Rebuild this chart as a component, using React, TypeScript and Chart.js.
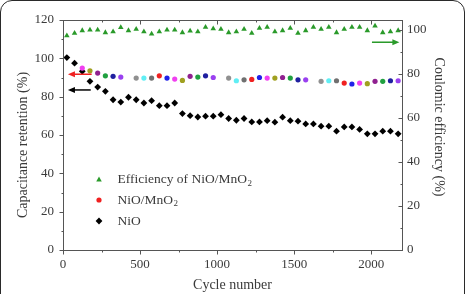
import React, { useEffect, useRef } from 'react';
import { Chart, registerables } from 'chart.js';

Chart.register(...registerables);

// ---- data ----
const cycles = [
  25, 75, 125, 175, 225, 275, 325, 375, 425, 475, 525, 575, 625, 675, 725, 775, 825, 875, 925, 975, 1025, 1075,
  1125, 1175, 1225, 1275, 1325, 1375, 1425, 1475, 1525, 1575, 1625, 1675, 1725, 1775, 1825, 1875, 1925, 1975, 2025,
  2075, 2125, 2175,
];

// Coulombic efficiency of NiO/MnO2 (right axis, %)
const efficiency = [
  97.4, 98.5, 99.7, 100.0, 100.0, 98.8, 99.2, 101.1, 99.7, 100.3, 99.2, 98.2, 99.2, 100.0, 100.0, 98.8, 99.5, 99.2,
  101.2, 100.6, 100.3, 98.8, 99.2, 100.3, 98.5, 100.8, 101.2, 99.2, 99.7, 100.8, 98.5, 99.7, 101.2, 100.3, 101.2,
  98.8, 100.3, 101.2, 101.2, 99.7, 101.8, 98.8, 99.2, 99.7,
];

// Capacitance retention of NiO/MnO2 (left axis, %)
const nioMno2 = [
  null, null, 94.9, 93.5, 92.3, 90.9, 90.6, 90.2, null, 89.7, 89.7, 89.7, 90.9, 89.7, 89.2, 88.5, 90.6, 90.2, 90.9,
  90.0, null, 89.7, 88.3, 88.8, 89.0, 90.0, 89.7, 89.7, 90.0, 89.7, 88.8, 88.8, null, 88.0, 88.3, 88.3, 87.1, 86.6,
  87.1, 86.8, 88.0, 88.0, 88.3, 88.3,
];

const nioMno2Colors = [
  '#ffffff', '#ffffff', '#f040f0', '#a0a020', '#902090', '#20a040', '#2020a0', '#9a40f0', '#ffffff', '#909090',
  '#60eef4', '#707070', '#f02020', '#2020e8', '#f040f0', '#a0a020', '#902090', '#20a040', '#2020a0', '#9a40f0',
  '#ffffff', '#909090', '#60eef4', '#707070', '#f02020', '#2020e8', '#f040f0', '#a0a020', '#902090', '#20a040',
  '#2020a0', '#9a40f0', '#ffffff', '#909090', '#60eef4', '#707070', '#f02020', '#2020e8', '#f040f0', '#a0a020',
  '#902090', '#20a040', '#2020a0', '#9a40f0',
];

// Capacitance retention of NiO (left axis, %)
const nio = [
  100.4, 97.5, 93.2, 88.0, 85.0, 82.8, 78.4, 77.2, 79.7, 78.4, 76.7, 77.9, 75.3, 75.3, 76.7, 71.2, 70.1, 69.4, 69.8,
  69.8, 70.6, 68.6, 67.7, 68.6, 66.8, 66.8, 67.5, 66.7, 69.3, 67.5, 67.2, 65.8, 65.8, 64.6, 64.6, 62.0, 64.2, 64.2,
  62.9, 60.6, 60.6, 62.0, 62.0, 60.6,
];

const leftTicks = [0, 20, 40, 60, 80, 100, 120];
const leftMinor = [10, 30, 50, 70, 90, 110];
const rightTicks = [0, 20, 40, 60, 80, 100];
const rightMinor = [10, 30, 50, 70, 90];
const xTicks = [0, 500, 1000, 1500, 2000];
const xMinor = [250, 750, 1250, 1750];

const legendNames = ['Efficiency of NiO/MnO', 'NiO/MnO', 'NiO'];
const legendSubs = ['2', '2', ''];

// arrows: [x from, x to, value] in data units
const redArrow = [186, 32, 91.7];
const blackArrow = [180, 32, 83.5];
const greenArrow = [2005, 2183, 94.4];

const FONT = '"Liberation Serif", "Times New Roman", serif';
const TEXT = '#3a3a3a';
const AXIS = '#555555';
const GREEN = '#2a9a2a';
const RED = '#f02020';

function drawTri(ctx: CanvasRenderingContext2D, x: number, y: number, r: number) {
  ctx.beginPath();
  ctx.moveTo(x, y - r);
  ctx.lineTo(x + r * Math.sin((2 * Math.PI) / 3), y + r / 2);
  ctx.lineTo(x - r * Math.sin((2 * Math.PI) / 3), y + r / 2);
  ctx.closePath();
  ctx.fill();
}

function drawArrow(ctx: CanvasRenderingContext2D, x1: number, x2: number, y: number, color: string) {
  const dir = Math.sign(x2 - x1);
  ctx.strokeStyle = color;
  ctx.fillStyle = color;
  ctx.lineWidth = 1.5;
  ctx.beginPath();
  ctx.moveTo(x1, y);
  ctx.lineTo(x2 - dir * 5, y);
  ctx.stroke();
  ctx.beginPath();
  ctx.moveTo(x2, y);
  ctx.lineTo(x2 - dir * 7, y - 3);
  ctx.lineTo(x2 - dir * 7, y + 3);
  ctx.closePath();
  ctx.fill();
}

const decorPlugin = {
  id: 'decor',
  afterDraw(chart: any) {
    const { ctx, chartArea: ca, scales } = chart;
    const sx = scales.x;
    const sy = scales.y;
    const sy2 = scales.y2;
    const L = Math.round(ca.left) + 0.5;
    const R = Math.round(ca.right) + 0.5;
    const T = Math.round(ca.top) + 0.5;
    const B = Math.round(ca.bottom) + 0.5;
    ctx.save();
    ctx.strokeStyle = AXIS;
    ctx.lineWidth = 1;
    ctx.strokeRect(L, T, R - L, B - T);
    const seg = (a: number, b: number, c: number, d: number) => {
      ctx.beginPath();
      ctx.moveTo(a, b);
      ctx.lineTo(c, d);
      ctx.stroke();
    };
    const py = (s: any, v: number) => Math.round(s.getPixelForValue(v)) + 0.5;
    leftTicks.forEach((v) => seg(L - 4, py(sy, v), L, py(sy, v)));
    leftMinor.forEach((v) => seg(L - 2, py(sy, v), L, py(sy, v)));
    rightTicks.forEach((v) => seg(R - 4, py(sy2, v), R, py(sy2, v)));
    rightMinor.forEach((v) => seg(R - 2, py(sy2, v), R, py(sy2, v)));
    xTicks.forEach((v) => {
      seg(py(sx, v), B, py(sx, v), B + 4);
      seg(py(sx, v), T, py(sx, v), T + 4);
    });
    xMinor.forEach((v) => {
      seg(py(sx, v), B, py(sx, v), B + 2);
      seg(py(sx, v), T, py(sx, v), T + 2);
    });

    // arrows
    drawArrow(ctx, sx.getPixelForValue(redArrow[0]), sx.getPixelForValue(redArrow[1]), sy.getPixelForValue(redArrow[2]), RED);
    drawArrow(ctx, sx.getPixelForValue(blackArrow[0]), sx.getPixelForValue(blackArrow[1]), sy.getPixelForValue(blackArrow[2]), '#000000');
    drawArrow(ctx, sx.getPixelForValue(greenArrow[0]), sx.getPixelForValue(greenArrow[1]), sy2.getPixelForValue(greenArrow[2]), GREEN);

    // axis titles
    ctx.fillStyle = TEXT;
    ctx.textAlign = 'center';
    ctx.textBaseline = 'middle';
    ctx.font = `14px ${FONT}`;
    ctx.fillText('Cycle number', (ca.left + ca.right) / 2, 285);
    ctx.save();
    ctx.translate(23.5, 145);
    ctx.rotate(-Math.PI / 2);
    ctx.fillText('Capacitance retention (%)', 0, 0);
    ctx.restore();
    ctx.save();
    ctx.translate(439, 127);
    ctx.rotate(Math.PI / 2);
    ctx.fillText('Coulomic efficiency (%)', 0, 0);
    ctx.restore();

    // legend
    const mx = ca.left + 36;
    const tx = ca.left + 54.5;
    const rows = [ca.top + 159.3, ca.top + 180, ca.top + 201];
    ctx.fillStyle = GREEN;
    drawTri(ctx, mx, rows[0] + 0.5, 3.2);
    ctx.fillStyle = RED;
    ctx.beginPath();
    ctx.arc(mx, rows[1], 2.6, 0, Math.PI * 2);
    ctx.fill();
    ctx.fillStyle = '#000';
    ctx.beginPath();
    ctx.moveTo(mx - 3.4, rows[2]);
    ctx.lineTo(mx, rows[2] - 3.4);
    ctx.lineTo(mx + 3.4, rows[2]);
    ctx.lineTo(mx, rows[2] + 3.4);
    ctx.closePath();
    ctx.fill();
    ctx.textAlign = 'left';
    ctx.textBaseline = 'middle';
    ctx.fillStyle = TEXT;
    legendNames.forEach((name, i) => {
      ctx.font = `13.5px ${FONT}`;
      ctx.fillText(name, tx, rows[i]);
      if (legendSubs[i]) {
        const w = ctx.measureText(name).width;
        ctx.font = `9px ${FONT}`;
        ctx.fillText(legendSubs[i], tx + w + 0.5, rows[i] + 4);
      }
    });
    ctx.restore();
  },
};

export default function App() {
  const ref = useRef<HTMLCanvasElement>(null);
  useEffect(() => {
    const tickFont = { family: FONT, size: 13 };
    const chart = new Chart(ref.current as HTMLCanvasElement, {
      type: 'scatter',
      data: {
        datasets: [
          {
            label: 'Efficiency of NiO/MnO2',
            data: cycles.map((c, i) => ({ x: c, y: efficiency[i] })),
            yAxisID: 'y2',
            pointStyle: 'triangle',
            pointRadius: 3.2,
            pointBorderWidth: 0,
            backgroundColor: GREEN,
            borderColor: GREEN,
          },
          {
            label: 'NiO/MnO2',
            data: cycles.map((c, i) => ({ x: c, y: nioMno2[i] })),
            yAxisID: 'y',
            pointStyle: 'circle',
            pointRadius: 2.6,
            pointBorderWidth: 0,
            pointBackgroundColor: nioMno2Colors,
            backgroundColor: RED,
            borderColor: RED,
          },
          {
            label: 'NiO',
            data: cycles.map((c, i) => ({ x: c, y: nio[i] })),
            yAxisID: 'y',
            pointStyle: 'rectRot',
            pointRadius: 3.4,
            pointBorderWidth: 0,
            backgroundColor: '#000000',
            borderColor: '#000000',
          },
        ],
      },
      options: {
        responsive: false,
        animation: false,
        devicePixelRatio: 1,
        layout: { padding: 0 },
        plugins: { legend: { display: false }, tooltip: { enabled: false } },
        scales: {
          x: {
            type: 'linear',
            position: 'bottom',
            min: 0,
            max: 2200,
            afterBuildTicks: (s: any) => {
              s.ticks = xTicks.map((v) => ({ value: v }));
            },
            afterFit: (s: any) => {
              s.height = 44;
            },
            grid: { display: false, drawTicks: false, tickLength: 0 },
            border: { display: false },
            ticks: { font: tickFont, color: TEXT, padding: 7, maxRotation: 0, autoSkip: false, callback: (v: any) => String(v) },
          },
          xTop: {
            type: 'linear',
            position: 'top',
            min: 0,
            max: 2200,
            afterFit: (s: any) => {
              s.height = 20;
            },
            grid: { display: false, drawTicks: false, tickLength: 0 },
            border: { display: false },
            ticks: { display: false },
          },
          y: {
            type: 'linear',
            position: 'left',
            min: 0,
            max: 120,
            afterBuildTicks: (s: any) => {
              s.ticks = leftTicks.map((v) => ({ value: v }));
            },
            afterFit: (s: any) => {
              s.width = 63;
            },
            grid: { display: false, drawTicks: false, tickLength: 0 },
            border: { display: false },
            ticks: { font: tickFont, color: TEXT, padding: 9, callback: (v: any) => String(v) },
          },
          y2: {
            type: 'linear',
            position: 'right',
            min: 0,
            max: 104.5,
            afterBuildTicks: (s: any) => {
              s.ticks = rightTicks.map((v) => ({ value: v }));
            },
            afterFit: (s: any) => {
              s.width = 63;
            },
            grid: { display: false, drawTicks: false, tickLength: 0 },
            border: { display: false },
            ticks: { font: tickFont, color: TEXT, padding: 5, callback: (v: any) => String(v) },
          },
        },
      },
      plugins: [decorPlugin],
    } as any);
    return () => chart.destroy();
  }, []);
  return (
    <div
      style={{
        position: 'fixed',
        left: 0,
        top: 0,
        width: 465,
        height: 294,
        background: '#ffffff',
        overflow: 'hidden',
      }}
    >
      <canvas ref={ref} width={465} height={294} style={{ position: 'absolute', left: 0, top: 0, width: 465, height: 294 }} />
      <div
        style={{
          position: 'absolute',
          left: 0,
          top: 0,
          width: 465,
          height: 330,
          boxSizing: 'border-box',
          border: '1.5px solid #2a2a2a',
          borderRadius: 12,
          pointerEvents: 'none',
        }}
      />
    </div>
  );
}
